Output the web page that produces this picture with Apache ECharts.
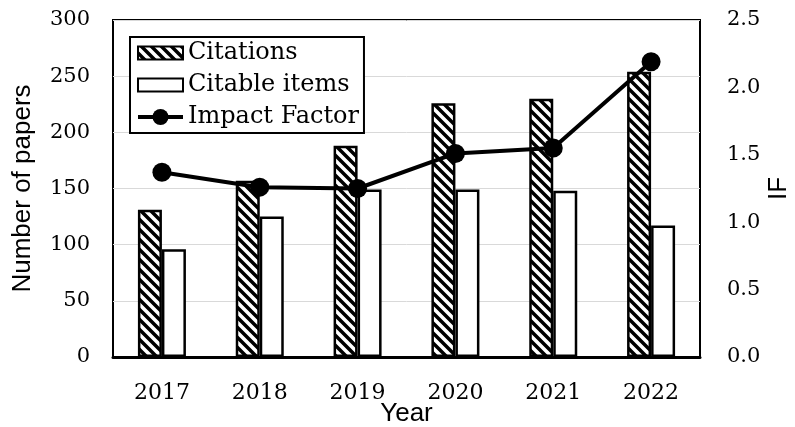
<!DOCTYPE html>
<html>
<head>
<meta charset="utf-8">
<script src="https://cdn.jsdelivr.net/npm/echarts@6/dist/echarts.min.js"></script>
<style>
  html, body { margin: 0; padding: 0; background: #fff; }
  #chart { width: 795px; height: 427px; }
</style>
</head>
<body>
<div id="chart"></div>
<script>
// data
const years = ['2017', '2018', '2019', '2020', '2021', '2022'];
const citations = [131, 157, 188, 226, 230, 254];
const citableItems = [96, 125, 149, 149, 148, 117];
const impactFactor = [1.37, 1.26, 1.25, 1.51, 1.55, 2.19];

const serif = 'DejaVu Serif';
const sans = 'Liberation Sans';
const barIcon = 'path://M0,0H45V13H0Z';

// diagonal hatch tile for the Citations bars
function hatch() {
  const c = document.createElement('canvas');
  c.width = 10;
  c.height = 10;
  const g = c.getContext('2d');
  g.fillStyle = '#fff';
  g.fillRect(0, 0, 10, 10);
  g.strokeStyle = '#000';
  g.lineWidth = 3.5;
  g.beginPath();
  g.moveTo(-2, -2); g.lineTo(12, 12);
  g.moveTo(-2, 8); g.lineTo(2, 12);
  g.moveTo(8, -2); g.lineTo(12, 2);
  g.stroke();
  return c;
}

const chart = echarts.init(document.getElementById('chart'));
chart.setOption({
  animation: false,
  grid: {
    left: 113,
    right: 95,
    top: 20,
    bottom: 70,
    outerBoundsMode: 'none',
    show: true,
    borderColor: '#000',
    borderWidth: 2,
  },
  legend: {
    orient: 'vertical',
    left: 130,
    top: 37,
    padding: [4, 5, 4, 6],
    itemGap: 8,
    itemWidth: 45,
    itemHeight: 20,
    itemTextGap: 7,
    symbolKeepAspect: true,
    backgroundColor: '#fff',
    borderColor: '#000',
    borderWidth: 2,
    borderRadius: 0,
    textStyle: { fontFamily: serif, fontSize: 24, color: '#000' },
    data: [
      { name: 'Citations', icon: barIcon },
      { name: 'Citable items', icon: barIcon },
      { name: 'Impact Factor', lineStyle: { width: 4, color: '#000' } },
    ],
  },
  xAxis: {
    type: 'category',
    data: years,
    name: 'Year',
    nameLocation: 'middle',
    nameGap: 44,
    nameMoveOverlap: false,
    nameTextStyle: { fontFamily: sans, fontSize: 26, color: '#000' },
    axisTick: { show: false },
    axisLine: { lineStyle: { color: '#000', width: 3 } },
    axisLabel: { fontFamily: serif, fontSize: 22, color: '#000', margin: 25 },
  },
  yAxis: [
    {
      type: 'value',
      min: 0,
      max: 300,
      interval: 50,
      name: 'Number of papers',
      nameLocation: 'middle',
      nameGap: 77,
      nameMoveOverlap: false,
      nameRotate: 90,
      nameTextStyle: { fontFamily: sans, fontSize: 26, color: '#000' },
      axisLine: { show: false },
      axisTick: { show: false },
      axisLabel: { fontFamily: serif, fontSize: 21, color: '#000', margin: 23 },
      splitLine: { lineStyle: { color: '#d9d9d9', width: 1 } },
    },
    {
      type: 'value',
      min: 0,
      max: 2.5,
      interval: 0.5,
      name: 'IF',
      nameLocation: 'middle',
      nameGap: 66,
      nameMoveOverlap: false,
      nameRotate: 90,
      nameTextStyle: { fontFamily: sans, fontSize: 26, color: '#000' },
      axisLine: { show: false },
      axisTick: { show: false },
      axisLabel: {
        fontFamily: serif,
        fontSize: 21,
        color: '#000',
        margin: 27,
        formatter: (v) => v.toFixed(1),
      },
      splitLine: { show: false },
    },
  ],
  series: [
    {
      name: 'Citations',
      type: 'bar',
      data: citations,
      barWidth: 24,
      barGap: '0%',
      itemStyle: {
        color: { image: hatch(), repeat: 'repeat' },
        borderColor: '#000',
        borderWidth: 2.5,
      },
    },
    {
      name: 'Citable items',
      type: 'bar',
      data: citableItems,
      barWidth: 24,
      itemStyle: { color: '#fff', borderColor: '#000', borderWidth: 2.5 },
    },
    {
      name: 'Impact Factor',
      type: 'line',
      yAxisIndex: 1,
      data: impactFactor,
      symbol: 'circle',
      symbolSize: 19,
      z: 5,
      lineStyle: { color: '#000', width: 4 },
      itemStyle: { color: '#000' },
    },
  ],
});
</script>
</body>
</html>
